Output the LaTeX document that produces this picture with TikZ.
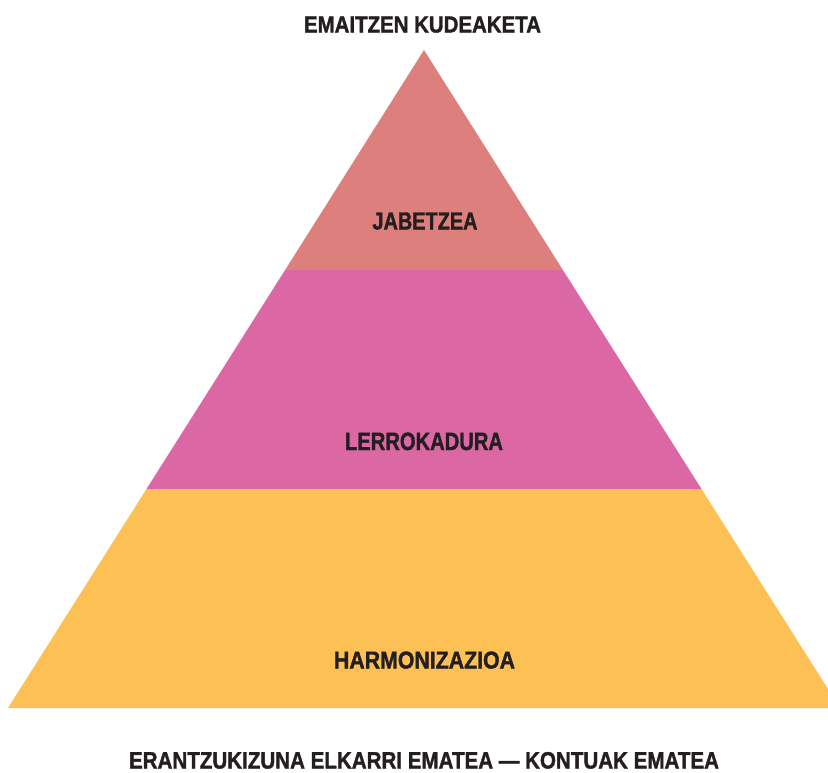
\documentclass[tikz,border=0pt]{standalone}
\usepackage{fontspec}
\usepackage{graphicx}
\setmainfont{Liberation Sans}[BoldFeatures={FakeBold=1.6}]
\definecolor{topband}{HTML}{DD7F7C}
\definecolor{midband}{HTML}{DC67A5}
\definecolor{lowband}{HTML}{FCC055}
\definecolor{ink}{HTML}{231F20}
\newcommand{\fitlabel}[3]{\resizebox{#1pt}{#2pt}{\bfseries #3}}
\begin{document}
\begin{tikzpicture}[x=1pt,y=-1pt,
  lbl/.style={anchor=base west,inner sep=0pt,outer sep=0pt,text=ink}]
\useasboundingbox (0,0) rectangle (828,772);
\begin{scope}
\clip (0,0) rectangle (828,772);
\fill[lowband] (146.5,489) -- (701.5,489) -- (840,708) -- (8,708) -- cycle;
\fill[midband] (285.1,270) -- (562.9,270) -- (701.5,489) -- (146.5,489) -- cycle;
\fill[topband] (424,50) -- (562.9,270) -- (285.1,270) -- cycle;
\end{scope}
\node[lbl] (title) at (304,32.5) {\fitlabel{237}{16}{EMAITZEN KUDEAKETA}};
\node[lbl] (jab) at (372.5,229.5) {\fitlabel{105}{17}{JABETZEA}};
\node[lbl] (ler) at (345,450) {\fitlabel{158}{17.5}{LERROKADURA}};
\node[lbl] (har) at (334,668.5) {\fitlabel{181}{17}{HARMONIZAZIOA}};
\node[lbl] (bottom) at (129,768.5) {\fitlabel{590}{16.5}{ERANTZUKIZUNA ELKARRI EMATEA — KONTUAK EMATEA}};
\end{tikzpicture}
\end{document}
